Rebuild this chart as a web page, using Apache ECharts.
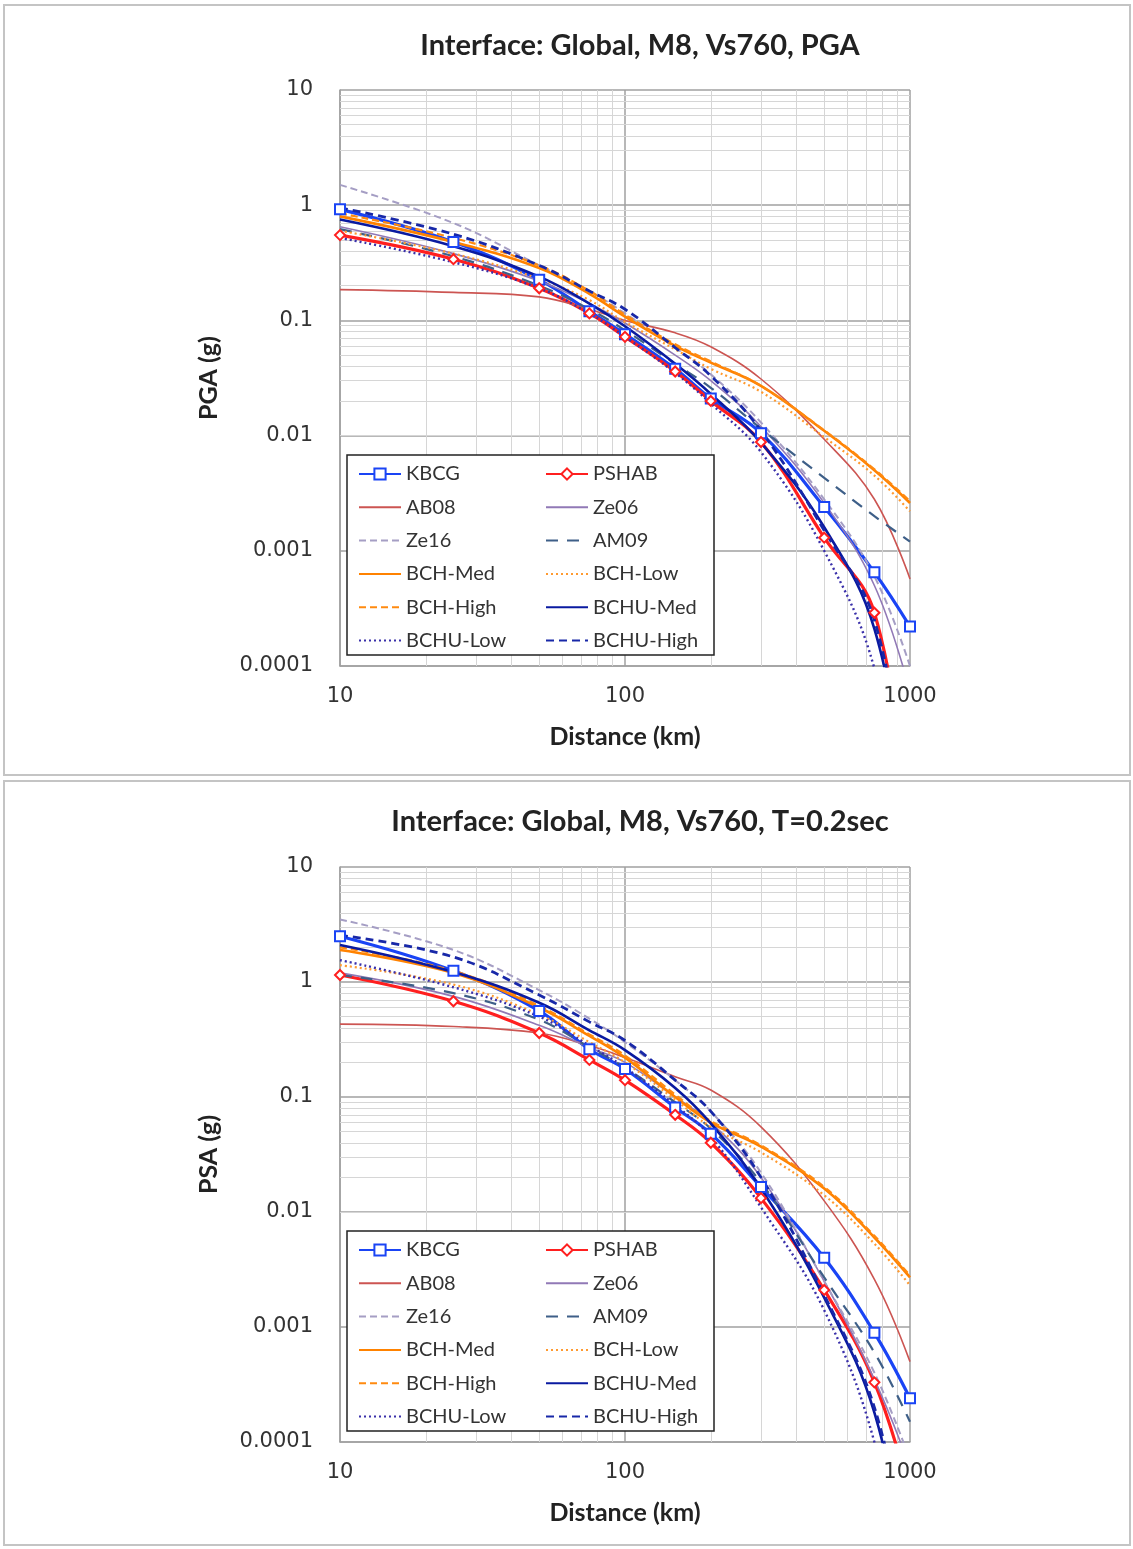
<!DOCTYPE html>
<html><head><meta charset="utf-8">
<script src="https://cdn.jsdelivr.net/npm/echarts@6/dist/echarts.min.js"></script>
<style>html,body{margin:0;padding:0;background:#fff}#c{width:1133px;height:1549px}</style>
</head><body><div id="c"></div>
<script>
// ---------------- DATA ----------------
const distances = [10, 25, 50, 75, 100, 150, 200, 300, 500, 750, 1000];
const seriesNames = ['KBCG','PSHAB','AB08','Ze06','Ze16','AM09','BCH-Med','BCH-Low','BCH-High','BCHU-Med','BCHU-Low','BCHU-High'];
const titles = ['Interface: Global, M8, Vs760, PGA', 'Interface: Global, M8, Vs760, T=0.2sec'];
const yNames = ['PGA (g)', 'PSA (g)'];
const xName = 'Distance (km)';
const minorY = [2,3,4,5,6,7,8,9];
const decadesY = [0.0001, 0.001, 0.01, 0.1, 1];
const minorX = [2,3,4,5,6,7,8,9];
const decadesX = [10, 100];

// Panel 1: PGA
const pgaKBCG     = [0.92, 0.48, 0.225, 0.12, 0.076, 0.038, 0.021, 0.0105, 0.0024, 0.00065, 0.00022];
const pgaPSHAB    = [0.55, 0.34, 0.19, 0.115, 0.072, 0.036, 0.020, 0.0088, 0.0013, 0.00029, 0.000004];
const pgaAB08     = [0.185, 0.175, 0.16, 0.125, 0.10, 0.078, 0.059, 0.031, 0.0093, 0.0028, 0.00057];
const pgaZe06     = [0.65, 0.38, 0.22, 0.14, 0.095, 0.05, 0.03, 0.012, 0.0026, 0.0005, 0.00006];
const pgaZe16     = [1.5, 0.7, 0.30, 0.18, 0.115, 0.058, 0.034, 0.013, 0.0028, 0.0006, 0.0001];
const pgaAM09     = [0.62, 0.36, 0.20, 0.125, 0.082, 0.042, 0.026, 0.0115, 0.0043, 0.0020, 0.0012];
const pgaBCHMed   = [0.80, 0.48, 0.285, 0.17, 0.108, 0.06, 0.043, 0.027, 0.011, 0.005, 0.0026];
const pgaBCHLow   = [0.60, 0.38, 0.23, 0.15, 0.097, 0.056, 0.038, 0.024, 0.0097, 0.0045, 0.0022];
const pgaBCHHigh  = [0.85, 0.52, 0.30, 0.18, 0.112, 0.062, 0.044, 0.027, 0.0111, 0.0051, 0.0027];
const pgaBCHUMed  = [0.75, 0.44, 0.24, 0.14, 0.089, 0.042, 0.023, 0.0087, 0.0016, 0.00021, 0.000005];
const pgaBCHULow  = [0.52, 0.32, 0.19, 0.115, 0.072, 0.035, 0.019, 0.0072, 0.0010, 0.000095, 0.000002];
const pgaBCHUHigh = [0.95, 0.56, 0.30, 0.18, 0.125, 0.058, 0.033, 0.011, 0.0015, 0.00025, 0.000005];

// Panel 2: PSA T=0.2s
const psaKBCG     = [2.5, 1.25, 0.56, 0.26, 0.175, 0.081, 0.048, 0.0165, 0.004, 0.00089, 0.00024];
const psaPSHAB    = [1.15, 0.68, 0.36, 0.21, 0.14, 0.07, 0.04, 0.0132, 0.0021, 0.00033, 0.000035];
const psaAB08     = [0.43, 0.41, 0.36, 0.28, 0.22, 0.15, 0.115, 0.055, 0.0125, 0.0026, 0.0005];
const psaZe06     = [1.2, 0.75, 0.42, 0.27, 0.20, 0.10, 0.06, 0.02, 0.0025, 0.00035, 0.00006];
const psaZe16     = [3.5, 1.9, 0.85, 0.48, 0.30, 0.14, 0.075, 0.022, 0.0025, 0.0004, 0.00007];
const psaAM09     = [1.15, 0.80, 0.47, 0.27, 0.18, 0.09, 0.053, 0.018, 0.0027, 0.0006, 0.00015];
const psaBCHMed   = [1.9, 1.2, 0.60, 0.34, 0.22, 0.10, 0.06, 0.037, 0.016, 0.006, 0.0027];
const psaBCHLow   = [1.4, 0.95, 0.52, 0.30, 0.20, 0.095, 0.055, 0.033, 0.014, 0.0053, 0.0023];
const psaBCHHigh  = [2.0, 1.25, 0.62, 0.35, 0.23, 0.105, 0.062, 0.038, 0.0165, 0.0062, 0.0028];
const psaBCHUMed  = [2.1, 1.22, 0.66, 0.38, 0.256, 0.12, 0.059, 0.016, 0.0018, 0.00018, 0.000006];
const psaBCHULow  = [1.55, 0.90, 0.50, 0.28, 0.18, 0.085, 0.045, 0.011, 0.0014, 0.0001, 0.000003];
const psaBCHUHigh = [2.55, 1.65, 0.77, 0.45, 0.31, 0.14, 0.075, 0.02, 0.0019, 0.0002, 0.000008];

const panelValues = [
  [pgaKBCG, pgaPSHAB, pgaAB08, pgaZe06, pgaZe16, pgaAM09, pgaBCHMed, pgaBCHLow, pgaBCHHigh, pgaBCHUMed, pgaBCHULow, pgaBCHUHigh],
  [psaKBCG, psaPSHAB, psaAB08, psaZe06, psaZe16, psaAM09, psaBCHMed, psaBCHLow, psaBCHHigh, psaBCHUMed, psaBCHULow, psaBCHUHigh]
];

// ---------------- STYLE ----------------
const styles = {
  'KBCG':      {color:'#1a44f5', width:3.2, type:'solid', symbol:'emptyRect', size:10},
  'PSHAB':     {color:'#ff1f1f', width:3.2, type:'solid', symbol:'emptyDiamond', size:10},
  'AB08':      {color:'#cc5552', width:1.6, type:'solid'},
  'Ze06':      {color:'#9179b6', width:1.6, type:'solid'},
  'Ze16':      {color:'#a59ec4', width:2, type:[7,4]},
  'AM09':      {color:'#3e5f88', width:2.2, type:[12,9]},
  'BCH-Med':   {color:'#ff8200', width:2.6, type:'solid'},
  'BCH-Low':   {color:'#ff9a30', width:2.2, type:[2,3]},
  'BCH-High':  {color:'#ff8a10', width:2.2, type:[7,4]},
  'BCHU-Med':  {color:'#0a1aa0', width:2.6, type:'solid'},
  'BCHU-Low':  {color:'#3a30aa', width:2.4, type:[2,3]},
  'BCHU-High': {color:'#1828a8', width:2.8, type:[8,5]}
};

const font = 'Lato, "Open Sans", sans-serif';
const tickFont = '"DejaVu Sans", sans-serif';
const grids = [
  {left:340, top:90, width:570, height:576},
  {left:340, top:867, width:570, height:575}
];

const option = {
  animation:false,
  backgroundColor:'#fff',
  title: titles.map((t,i)=>({
    text:t, left:635, top: i===0 ? 26 : 802, textAlign:'center',
    textStyle:{fontFamily:font, fontWeight:'bold', fontSize:29, color:'#222'}
  })),
  grid: grids.map(g=>Object.assign({containLabel:false}, g)),
  xAxis: grids.map((g,i)=>({
    type:'log', logBase:10, gridIndex:i, min:10, max:1000,
    name:xName, nameLocation:'middle', nameGap:58,
    nameTextStyle:{fontFamily:font, fontWeight:'bold', fontSize:25, color:'#222'},
    axisLine:{show:true, lineStyle:{color:'#a0a0a0', width:1.5}},
    axisTick:{show:false},
    axisLabel:{margin:20, fontFamily:tickFont, fontSize:21, color:'#333', formatter:v=>String(v)},
    splitLine:{show:true, lineStyle:{color:'#a0a0a0', width:1.5}},
    minorTick:{show:false}, minorSplitLine:{show:false}
  })),
  yAxis: grids.map((g,i)=>({
    type:'log', logBase:10, gridIndex:i, min:0.0001, max:10,
    name:yNames[i], nameLocation:'middle', nameGap:119,
    nameTextStyle:{fontFamily:font, fontWeight:'bold', fontSize:25, color:'#222'},
    axisLine:{show:true, lineStyle:{color:'#a0a0a0', width:1.5}},
    axisTick:{show:false},
    axisLabel:{margin:27, fontFamily:tickFont, fontSize:21, color:'#333', formatter:v=>String(+v.toPrecision(6))},
    splitLine:{show:true, lineStyle:{color:'#a0a0a0', width:1.5}},
    minorTick:{show:false}, minorSplitLine:{show:false}
  })),
  legend: [],
  graphic: [],
  series: []
};

// panel frames and legend boxes
const panels = [{y:5, h:770}, {y:781, h:764}];
panels.forEach(p=>option.graphic.push({type:'rect', z:0, shape:{x:4, y:p.y, width:1126, height:p.h},
  style:{fill:'none', stroke:'#c4c4c4', lineWidth:2}}));
const legendTops = [455, 1231];
legendTops.forEach(t=>option.graphic.push({type:'rect', z:3, shape:{x:347, y:t, width:367, height:200},
  style:{fill:'#fff', stroke:'#222', lineWidth:1.5}}));

const col1 = seriesNames.filter((n,i)=>i%2===0);
const col2 = seriesNames.filter((n,i)=>i%2===1);
const legendItem = n => styles[n].symbol ? {name:n} : {name:n, itemStyle:{opacity:0}};
legendTops.forEach(t=>{
  [[358,col1],[545,col2]].forEach(([lx,names])=>{
    option.legend.push({
      orient:'vertical', left:lx, top:t+9, padding:0, itemGap:13.3,
      itemWidth:42, itemHeight:14, selectedMode:false, data:names.map(legendItem),
      textStyle:{fontFamily:font, fontSize:20, color:'#333', lineHeight:20}
    });
  });
});

// minor gridlines through the axes' scales
grids.forEach((g,i)=>{
  const ml = [];
  decadesY.forEach(d=>minorY.forEach(m=>ml.push({yAxis:+(d*m).toPrecision(6)})));
  decadesX.forEach(d=>minorX.forEach(m=>ml.push({xAxis:d*m})));
  option.series.push({
    type:'line', name:'grid'+i, xAxisIndex:i, yAxisIndex:i, data:[], z:1, silent:true,
    markLine:{silent:true, symbol:['none','none'], label:{show:false}, z:1,
      lineStyle:{color:'#d6d6d6', width:1, type:'solid'}, emphasis:{disabled:true}, data:ml}
  });
});

// data series
panelValues.forEach((vals,p)=>{
  seriesNames.forEach((name,k)=>{
    const s = styles[name];
    option.series.push({
      type:'line', name:name, xAxisIndex:p, yAxisIndex:p, z:2, clip:true,
      data: distances.map((d,j)=>[d, vals[k][j]]),
      smooth:0.4,
      symbol: s.symbol || 'none', symbolSize: s.size || 0, showSymbol: !!s.symbol,
      itemStyle:{color:s.color, borderColor:s.color, borderWidth:1.6},
      lineStyle:{color:s.color, width:s.width, type:s.type},
      emphasis:{disabled:true}
    });
  });
});

const chart = echarts.init(document.getElementById('c'), null, {renderer:'canvas'});
chart.setOption(option);
</script>
</body></html>
